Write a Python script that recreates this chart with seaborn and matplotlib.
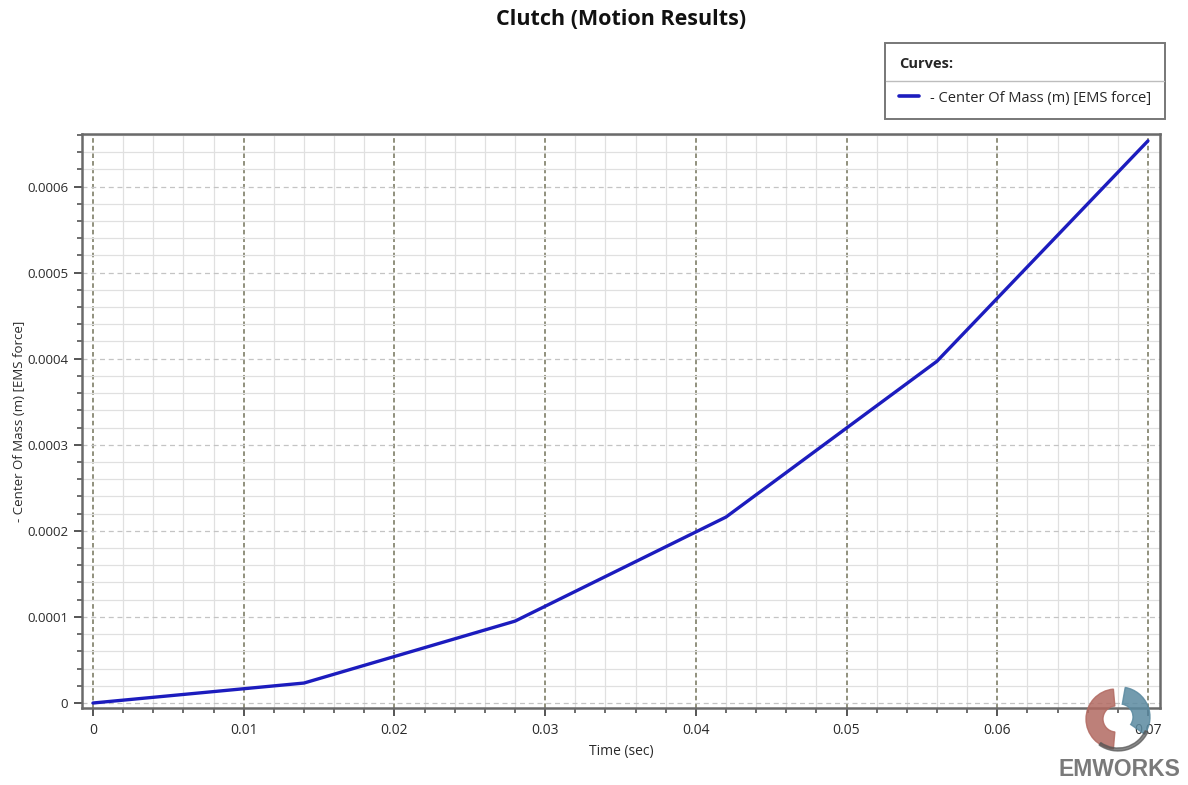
import numpy as np
import pandas as pd
import matplotlib
matplotlib.use("Agg")
import matplotlib.pyplot as plt
import seaborn as sns
from matplotlib.ticker import MultipleLocator, AutoMinorLocator, FuncFormatter
from matplotlib.lines import Line2D
from matplotlib.patches import Wedge

# Motion results: centre-of-mass displacement under EMS force
time_sec = [0.0, 0.014, 0.028, 0.042, 0.056, 0.07]
center_of_mass_m = [0.0, 0.0000232, 0.0000951, 0.000216, 0.000397, 0.000653]
series_label = "- Center Of Mass (m) [EMS force]"

sns.set_theme(style="white")
plt.rcParams["font.family"] = ["Open Sans", "DejaVu Sans"]

W, H = 1188, 785
fig = plt.figure(figsize=(W / 100, H / 100), dpi=100)
ax = fig.add_axes([82 / W, 1 - 708 / H, (1160 - 82) / W, (708 - 134) / H])

df = pd.DataFrame({"t": time_sec, "com": center_of_mass_m})
sns.lineplot(data=df, x="t", y="com", ax=ax, color="#1c1cbe", linewidth=2.4,
             label=series_label, legend=False)

ax.set_xlim(-0.00073, 0.0708)
ax.set_ylim(-0.0000058, 0.000661)

ax.xaxis.set_major_locator(MultipleLocator(0.01))
ax.xaxis.set_minor_locator(AutoMinorLocator(5))
ax.yaxis.set_major_locator(MultipleLocator(0.0001))
ax.yaxis.set_minor_locator(AutoMinorLocator(5))
fmt = FuncFormatter(lambda v, p: "0" if abs(v) < 1e-12 else f"{v:g}")
ax.xaxis.set_major_formatter(fmt)
ax.yaxis.set_major_formatter(fmt)

# grids: solid light minor lines, dashed major lines
ax.grid(which="minor", color="#e0e0e0", linewidth=0.9, linestyle="-")
ax.grid(which="major", axis="x", color="#73735a", linewidth=1.1, linestyle=(0, (3, 2)))
ax.grid(which="major", axis="y", color="#c4c4c4", linewidth=0.9, linestyle=(0, (4, 3)))
ax.set_axisbelow(True)

for s in ax.spines.values():
    s.set_color("#6a6a6a")
    s.set_linewidth(1.8)

ax.tick_params(which="major", direction="out", length=6, width=1.4, color="#555555",
               labelsize=10, labelcolor="#2a2a2a", bottom=True, left=True, pad=5)
ax.tick_params(axis="y", which="major", labelsize=9.5, pad=4)
ax.tick_params(which="minor", direction="out", length=3.5, width=1.2, color="#555555",
               bottom=True, left=True)

ax.set_xlabel("Time (sec)", fontsize=10, color="#2a2a2a", labelpad=4)
ax.set_ylabel(series_label, fontsize=9.5, color="#2a2a2a", labelpad=1)

fig.suptitle("Clutch (Motion Results)", x=621 / W, y=1 - 9 / H, va="top",
             fontsize=15.5, fontweight="bold", color="#111111")

# legend box with a "Curves:" header
handles, labels = ax.get_legend_handles_labels()
leg = fig.legend(handles, labels, title="Curves:", loc="upper left",
                 bbox_to_anchor=(885 / W, 1 - 43 / H), frameon=True, fancybox=False,
                 fontsize=10.5, title_fontsize=10.5, alignment="left", handlelength=1.4,
                 borderpad=0.95, labelspacing=1.35, handletextpad=0.75, borderaxespad=0)
leg.get_title().set_fontweight("bold")
leg.get_frame().set_edgecolor("#555555")
leg.get_frame().set_linewidth(1.4)
for h in leg.get_lines():
    h.set_linewidth(2.6)

fig.canvas.draw()
lb = leg.get_window_extent()
tb = leg.get_title().get_window_extent()
eb = leg.get_texts()[0].get_window_extent()
sep_y = ((tb.y0 + eb.y1) / 2) / H
fig.add_artist(Line2D([(lb.x0 + 1) / W, (lb.x1 - 1) / W], [sep_y, sep_y],
                      transform=fig.transFigure, color="#bdbdbd", linewidth=1.0, zorder=10))

# EMWORKS mark
cx, cy = 1118, 718
logo = fig.add_axes([(cx - 40) / W, 1 - (cy + 40) / H, 80 / W, 80 / H])
logo.set_xlim(-40, 40)
logo.set_ylim(-40, 40)
logo.axis("off")
logo.patch.set_alpha(0)
logo.add_patch(Wedge((-2, -1), 30, 95, 265, width=17, color="#b26a62", alpha=0.85))
logo.add_patch(Wedge((2, 1), 30, -35, 80, width=17, color="#5b8aa0", alpha=0.85))
logo.add_patch(Wedge((0, 0), 33, 235, 335, width=3, color="#555555", alpha=0.7))
fig.text(1119 / W, 1 - 770 / H, "EMWORKS", ha="center", va="center", fontsize=16.5,
         fontweight="bold", color="#7a7a7a", family=["Liberation Sans", "DejaVu Sans"])

fig.savefig("out.png", dpi=100)
